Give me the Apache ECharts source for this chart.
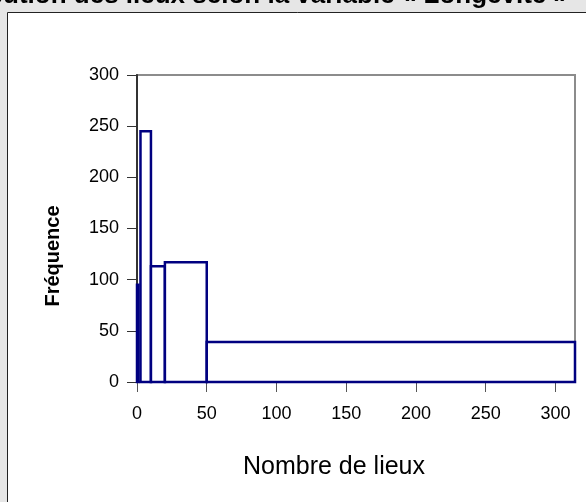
<!DOCTYPE html>
<html>
<head>
<meta charset="utf-8">
<script src="https://cdn.jsdelivr.net/npm/echarts@6/dist/echarts.min.js"></script>
<style>
html,body{margin:0;padding:0;background:#e6e6e6;}
#c{width:586px;height:502px;}
</style>
</head>
<body>
<div id="c"></div>
<script>
const titleText = 'Distribution des lieux selon la variable « Longévité »';
const xAxisTitle = 'Nombre de lieux';
const yAxisTitle = 'Fréquence';
const binStart = [0, 2.5, 10, 20, 50];
const binEnd = [1, 10, 20, 50, 314];
const freq = [95, 245, 113, 117, 39];
const xTicks = [0, 50, 100, 150, 200, 250, 300];
const yTicks = [0, 50, 100, 150, 200, 250, 300];

const FONT = '"Liberation Sans", Arial, Helvetica, sans-serif';
const chart = echarts.init(document.getElementById('c'), null, {renderer: 'canvas'});

const data = binStart.map((s, i) => [s, binEnd[i], freq[i]]);

chart.setOption({
  backgroundColor: '#e6e6e6',
  animation: false,
  graphic: [
    {type: 'rect', z: -10, shape: {x: 7.5, y: 12.5, width: 620, height: 520}, style: {fill: '#ffffff', stroke: '#222222', lineWidth: 1}},
    {type: 'text', z: 10, x: 568, y: -4.5, style: {text: titleText, fill: '#000', font: 'bold 26px ' + FONT, textAlign: 'right', textVerticalAlign: 'middle'}},
    {type: 'text', z: 10, x: 334, y: 467, style: {text: xAxisTitle, fill: '#000', font: '25px ' + FONT, textAlign: 'center', textVerticalAlign: 'middle'}},
    {type: 'text', z: 10, x: 53, y: 256, rotation: Math.PI / 2, style: {text: yAxisTitle, fill: '#000', font: 'bold 20px ' + FONT, textAlign: 'center', textVerticalAlign: 'middle'}}
  ],
  grid: {left: 137, right: 11, top: 75, bottom: 120, show: true, borderColor: '#8c8c8c', borderWidth: 2, backgroundColor: 'transparent', containLabel: false, outerBoundsMode: 'none'},
  xAxis: {
    type: 'value', min: 0, max: 314, interval: 50,
    splitLine: {show: false},
    axisLine: {show: true, onZero: false, lineStyle: {color: '#555555', width: 2}},
    axisTick: {show: true, length: 10, customValues: xTicks, lineStyle: {color: '#555555', width: 1}},
    axisLabel: {customValues: xTicks, margin: 23, color: '#000', fontSize: 18, fontFamily: FONT}
  },
  yAxis: {
    type: 'value', min: 0, max: 300, interval: 50,
    splitLine: {show: false},
    axisLine: {show: true, onZero: false, lineStyle: {color: '#333333', width: 2}},
    axisTick: {show: true, length: 10, customValues: yTicks, lineStyle: {color: '#333333', width: 1}},
    axisLabel: {customValues: yTicks, margin: 18, color: '#000', fontSize: 18, fontFamily: FONT}
  },
  series: [{
    type: 'custom',
    clip: false,
    z: 5,
    data: data,
    encode: {x: [0, 1], y: 2},
    renderItem: function (params, api) {
      const p0 = api.coord([api.value(0), api.value(2)]);
      const p1 = api.coord([api.value(1), 0]);
      return {
        type: 'rect',
        shape: {x: p0[0], y: p0[1], width: p1[0] - p0[0], height: p1[1] - p0[1]},
        style: {fill: '#ffffff', stroke: '#000080', lineWidth: 2.5}
      };
    }
  }]
});
</script>
</body>
</html>
